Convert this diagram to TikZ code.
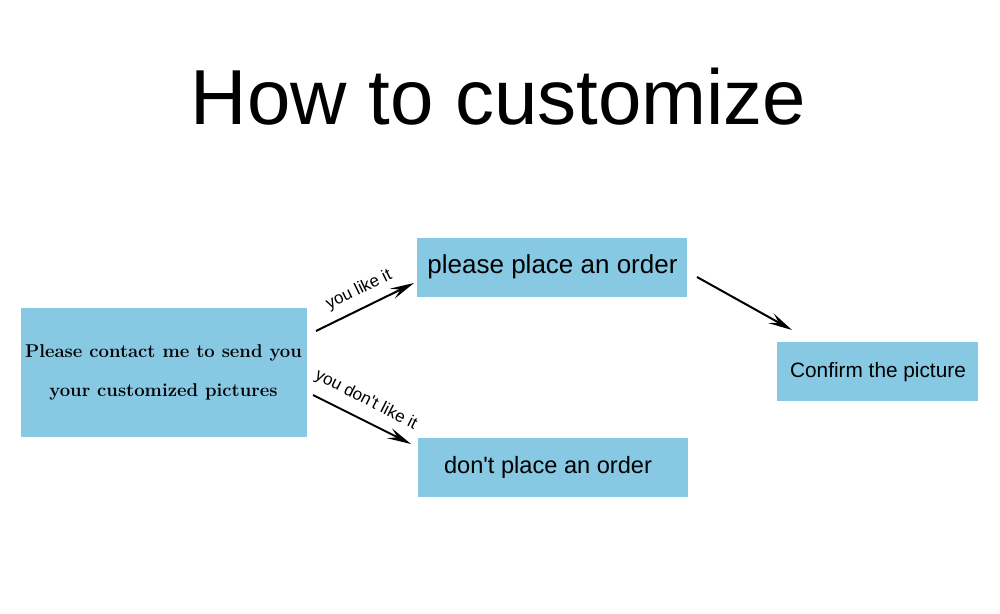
\documentclass[tikz,border=0pt]{standalone}
\usepackage{fontspec}
\newfontfamily\arialfont{Liberation Sans}
\newfontfamily\lmbold{Latin Modern Roman}
\usetikzlibrary{arrows.meta}
\definecolor{boxblue}{RGB}{135,200,227}
\tikzset{
  box/.style={fill=boxblue, draw=none, inner sep=0pt, anchor=north west},
  flow/.style={-{Stealth[length=24pt,width=11pt,inset=9pt]}, line width=2pt},
  lbl/.style={font=\arialfont\fontsize{17}{19}\selectfont, inner sep=0pt}
}
\begin{document}
\begin{tikzpicture}[x=1pt,y=-1pt,font=\arialfont]
\useasboundingbox (0,0) rectangle (1000,613);
\fill[white] (0,0) rectangle (1000,613);
\node[font=\arialfont\fontsize{78}{82}\selectfont, inner sep=0pt, anchor=base] (title) at (498.5,124) {How to customize};
\node[box, minimum width=286pt, minimum height=129pt] (start) at (21,308) {};
\node[font=\lmbold\bfseries\fontsize{18.5}{21}\selectfont, align=center, inner sep=0pt] (starttxt) at (163.5,372) {Please contact me to send you\\[18pt] your customized pictures};
\node[box, minimum width=270pt, minimum height=59pt] (order) at (417,238) {};
\node[font=\arialfont\fontsize{26}{29}\selectfont, inner sep=0pt] (ordertxt) at (552.5,267) {please place an order};
\node[box, minimum width=270pt, minimum height=59pt] (noorder) at (418,438) {};
\node[font=\arialfont\fontsize{23.6}{26}\selectfont, inner sep=0pt] (noordertxt) at (548,467) {don't place an order};
\node[box, minimum width=201pt, minimum height=59pt] (confirm) at (777,342) {};
\node[font=\arialfont\fontsize{20.8}{23}\selectfont, inner sep=0pt] (confirmtxt) at (878,372) {Confirm the picture};
\coordinate (a1s) at (316,331);
\coordinate (a1e) at (414,283);
\coordinate (a2s) at (313,395);
\coordinate (a2e) at (411,444);
\coordinate (a3s) at (697,277);
\coordinate (a3e) at (792,330);
\draw[flow] (a1s) -- (a1e);
\draw[flow] (a2s) -- (a2e);
\draw[flow] (a3s) -- (a3e);
\node[lbl, rotate=26] (l1) at (359,290) {you like it};
\node[lbl, rotate=-27] (l2) at (366,400) {you don't like it};
\end{tikzpicture}
\end{document}
